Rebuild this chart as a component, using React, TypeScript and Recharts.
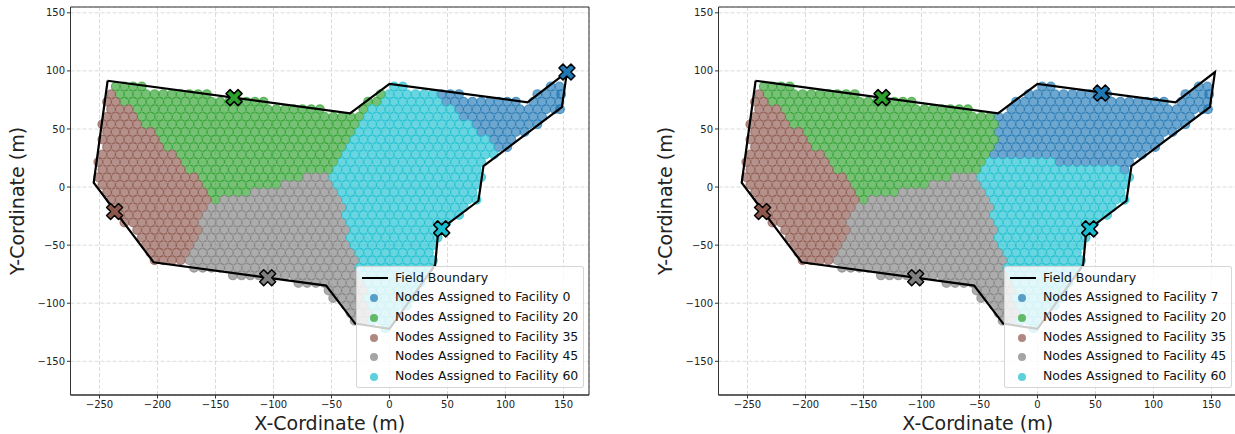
import { ScatterChart, Scatter, XAxis, YAxis, CartesianGrid, Legend, ReferenceArea } from "recharts"

const FONT = "'DejaVu Sans', sans-serif"
const COLOR_BLUE = "#1f77b4"
const COLOR_GREEN = "#2ca02c"
const COLOR_BROWN = "#8c564b"
const COLOR_GRAY = "#7f7f7f"
const COLOR_CYAN = "#17becf"

const X_DOMAIN = [-275, 172]
const Y_DOMAIN = [-179, 155]
const X_TICKS = [-250, -200, -150, -100, -50, 0, 50, 100, 150]
const Y_TICKS = [-150, -100, -50, 0, 50, 100, 150]

const BOUNDARY = [
  { x: -243, y: 91.5 }, { x: -34, y: 63.5 }, { x: 0, y: 88.8 }, { x: 119, y: 73 },
  { x: 153, y: 99 }, { x: 148.6, y: 68.7 }, { x: 81, y: 18 }, { x: 76.7, y: -11.8 },
  { x: 42, y: -38 }, { x: 39.4, y: -67 }, { x: 0, y: -122 }, { x: -29.6, y: -117.5 },
  { x: -54.6, y: -84.8 }, { x: -203.4, y: -64.7 }, { x: -255, y: 3.7 }, { x: -243, y: 91.5 },
]

const FACILITY_0 = [{ x: 153, y: 99 }]
const FACILITY_7 = [{ x: 55, y: 81 }]
const FACILITY_20 = [{ x: -134, y: 77 }]
const FACILITY_35 = [{ x: -237, y: -21 }]
const FACILITY_45 = [{ x: -105, y: -78 }]
const FACILITY_60 = [{ x: 45, y: -36 }]

// node rows: first number is y, the rest are the x of each node in that row
const NODES_GREEN_CORE = [
  [86.5, -236, -228.5, -221, -213.5],
  [80, -232.5, -225, -217.5, -210, -202.5, -195, -187.5, -180, -172.5, -165, -157.5],
  [73.5, -228.5, -221, -213.5, -206, -198.5, -191, -183.5, -176, -168.5, -161, -153.5, -146, -138.5, -131, -123.5, -116, -108.5],
  [67, -217.5, -210, -202.5, -195, -187.5, -180, -172.5, -165, -157.5, -150, -142.5, -135, -127.5, -120, -112.5, -105, -97.5, -90, -82.5, -75, -67.5, -60],
  [60.5, -213.5, -206, -198.5, -191, -183.5, -176, -168.5, -161, -153.5, -146, -138.5, -131, -123.5, -116, -108.5, -101, -93.5, -86, -78.5, -71, -63.5, -56, -48.5, -41],
  [54, -210, -202.5, -195, -187.5, -180, -172.5, -165, -157.5, -150, -142.5, -135, -127.5, -120, -112.5, -105, -97.5, -90, -82.5, -75, -67.5, -60, -52.5, -45, -37.5],
  [47.5, -198.5, -191, -183.5, -176, -168.5, -161, -153.5, -146, -138.5, -131, -123.5, -116, -108.5, -101, -93.5, -86, -78.5, -71, -63.5, -56, -48.5, -41],
  [41, -195, -187.5, -180, -172.5, -165, -157.5, -150, -142.5, -135, -127.5, -120, -112.5, -105, -97.5, -90, -82.5, -75, -67.5, -60, -52.5, -45, -37.5],
  [34.5, -191, -183.5, -176, -168.5, -161, -153.5, -146, -138.5, -131, -123.5, -116, -108.5, -101, -93.5, -86, -78.5, -71, -63.5, -56, -48.5, -41],
  [28, -180, -172.5, -165, -157.5, -150, -142.5, -135, -127.5, -120, -112.5, -105, -97.5, -90, -82.5, -75, -67.5, -60, -52.5, -45],
  [21.5, -176, -168.5, -161, -153.5, -146, -138.5, -131, -123.5, -116, -108.5, -101, -93.5, -86, -78.5, -71, -63.5, -56, -48.5],
  [15, -172.5, -165, -157.5, -150, -142.5, -135, -127.5, -120, -112.5, -105, -97.5, -90, -82.5, -75, -67.5, -60, -52.5],
  [8.5, -161, -153.5, -146, -138.5, -131, -123.5, -116, -108.5, -101, -93.5, -86, -78.5],
  [2, -157.5, -150, -142.5, -135, -127.5, -120, -112.5, -105, -97.5],
  [-4.5, -153.5, -146, -138.5, -131, -123.5],
  [-11, -150],
]

// these go to facility 20 on the left panel, facility 7 on the right
const NODES_GREEN_SWING = [
  [80, -7.5],
  [73.5, -18.5, -11],
  [67, -22.5],
  [60.5, -33.5, -26],
  [54, -30],
  [47.5, -33.5],
]

const NODES_BROWN = [
  [80, -240],
  [73.5, -243.5, -236],
  [67, -240, -232.5, -225],
  [60.5, -243.5, -236, -228.5, -221],
  [54, -247.5, -240, -232.5, -225, -217.5],
  [47.5, -243.5, -236, -228.5, -221, -213.5, -206],
  [41, -247.5, -240, -232.5, -225, -217.5, -210, -202.5],
  [34.5, -243.5, -236, -228.5, -221, -213.5, -206, -198.5],
  [28, -247.5, -240, -232.5, -225, -217.5, -210, -202.5, -195, -187.5],
  [21.5, -251, -243.5, -236, -228.5, -221, -213.5, -206, -198.5, -191, -183.5],
  [15, -247.5, -240, -232.5, -225, -217.5, -210, -202.5, -195, -187.5, -180],
  [8.5, -251, -243.5, -236, -228.5, -221, -213.5, -206, -198.5, -191, -183.5, -176, -168.5],
  [2, -247.5, -240, -232.5, -225, -217.5, -210, -202.5, -195, -187.5, -180, -172.5, -165],
  [-4.5, -243.5, -236, -228.5, -221, -213.5, -206, -198.5, -191, -183.5, -176, -168.5, -161],
  [-11, -240, -232.5, -225, -217.5, -210, -202.5, -195, -187.5, -180, -172.5, -165, -157.5],
  [-17.5, -236, -228.5, -221, -213.5, -206, -198.5, -191, -183.5, -176, -168.5, -161],
  [-24, -232.5, -225, -217.5, -210, -202.5, -195, -187.5, -180, -172.5, -165],
  [-30.5, -228.5, -221, -213.5, -206, -198.5, -191, -183.5, -176, -168.5],
  [-37, -217.5, -210, -202.5, -195, -187.5, -180, -172.5, -165],
  [-43.5, -213.5, -206, -198.5, -191, -183.5, -176, -168.5],
  [-50, -210, -202.5, -195, -187.5, -180, -172.5],
  [-56.5, -206, -198.5, -191, -183.5, -176],
  [-63, -202.5, -195, -187.5, -180],
]

const NODES_GRAY = [
  [8.5, -71, -63.5, -56],
  [2, -90, -82.5, -75, -67.5, -60, -52.5],
  [-4.5, -116, -108.5, -101, -93.5, -86, -78.5, -71, -63.5, -56, -48.5],
  [-11, -142.5, -135, -127.5, -120, -112.5, -105, -97.5, -90, -82.5, -75, -67.5, -60, -52.5, -45],
  [-17.5, -153.5, -146, -138.5, -131, -123.5, -116, -108.5, -101, -93.5, -86, -78.5, -71, -63.5, -56, -48.5, -41],
  [-24, -157.5, -150, -142.5, -135, -127.5, -120, -112.5, -105, -97.5, -90, -82.5, -75, -67.5, -60, -52.5, -45],
  [-30.5, -161, -153.5, -146, -138.5, -131, -123.5, -116, -108.5, -101, -93.5, -86, -78.5, -71, -63.5, -56, -48.5, -41],
  [-37, -157.5, -150, -142.5, -135, -127.5, -120, -112.5, -105, -97.5, -90, -82.5, -75, -67.5, -60, -52.5, -45, -37.5],
  [-43.5, -161, -153.5, -146, -138.5, -131, -123.5, -116, -108.5, -101, -93.5, -86, -78.5, -71, -63.5, -56, -48.5, -41],
  [-50, -165, -157.5, -150, -142.5, -135, -127.5, -120, -112.5, -105, -97.5, -90, -82.5, -75, -67.5, -60, -52.5, -45, -37.5],
  [-56.5, -168.5, -161, -153.5, -146, -138.5, -131, -123.5, -116, -108.5, -101, -93.5, -86, -78.5, -71, -63.5, -56, -48.5, -41, -33.5],
  [-63, -172.5, -165, -157.5, -150, -142.5, -135, -127.5, -120, -112.5, -105, -97.5, -90, -82.5, -75, -67.5, -60, -52.5, -45, -37.5, -30],
  [-69.5, -168.5, -161, -153.5, -146, -138.5, -131, -123.5, -116, -108.5, -101, -93.5, -86, -78.5, -71, -63.5, -56, -48.5, -41, -33.5],
  [-76, -135, -127.5, -120, -112.5, -105, -97.5, -90, -82.5, -75, -67.5, -60, -52.5, -45, -37.5, -30],
  [-82.5, -78.5, -71, -63.5, -56, -48.5, -41, -33.5, -26],
  [-89, -52.5, -45, -37.5, -30, -22.5],
  [-95.5, -48.5, -41, -33.5, -26],
  [-102, -37.5, -30, -22.5],
  [-108.5, -33.5, -26, -18.5],
  [-115, -30, -22.5],
]

const NODES_CYAN_CORE = [
  [21.5, -41, -33.5, -26, -18.5, -11, -3.5, 4, 11.5],
  [15, -45, -37.5, -30, -22.5, -15, -7.5, 0, 7.5, 15, 22.5, 30, 37.5, 45, 52.5, 60, 67.5],
  [8.5, -48.5, -41, -33.5, -26, -18.5, -11, -3.5, 4, 11.5, 19, 26.5, 34, 41.5, 49, 56.5, 64, 71.5, 79],
  [2, -45, -37.5, -30, -22.5, -15, -7.5, 0, 7.5, 15, 22.5, 30, 37.5, 45, 52.5, 60, 67.5, 75],
  [-4.5, -41, -33.5, -26, -18.5, -11, -3.5, 4, 11.5, 19, 26.5, 34, 41.5, 49, 56.5, 64, 71.5],
  [-11, -37.5, -30, -22.5, -15, -7.5, 0, 7.5, 15, 22.5, 30, 37.5, 45, 52.5, 60, 67.5, 75],
  [-17.5, -33.5, -26, -18.5, -11, -3.5, 4, 11.5, 19, 26.5, 34, 41.5, 49, 56.5, 64],
  [-24, -37.5, -30, -22.5, -15, -7.5, 0, 7.5, 15, 22.5, 30, 37.5, 45, 52.5, 60],
  [-30.5, -33.5, -26, -18.5, -11, -3.5, 4, 11.5, 19, 26.5, 34, 41.5, 49],
  [-37, -30, -22.5, -15, -7.5, 0, 7.5, 15, 22.5, 30, 37.5],
  [-43.5, -33.5, -26, -18.5, -11, -3.5, 4, 11.5, 19, 26.5, 34, 41.5],
  [-50, -30, -22.5, -15, -7.5, 0, 7.5, 15, 22.5, 30, 37.5],
  [-56.5, -26, -18.5, -11, -3.5, 4, 11.5, 19, 26.5, 34],
  [-63, -22.5, -15, -7.5, 0, 7.5, 15, 22.5, 30, 37.5],
  [-69.5, -26, -18.5, -11, -3.5, 4, 11.5, 19, 26.5, 34],
  [-76, -22.5, -15, -7.5, 0, 7.5, 15, 22.5, 30],
  [-82.5, -18.5, -11, -3.5, 4, 11.5, 19, 26.5],
  [-89, -15, -7.5, 0, 7.5, 15, 22.5],
  [-95.5, -18.5, -11, -3.5, 4, 11.5, 19],
  [-102, -15, -7.5, 0, 7.5, 15],
  [-108.5, -11, -3.5, 4],
  [-115, -15, -7.5, 0],
  [-121.5, -3.5],
]

// these go to facility 60 on the left panel, facility 7 on the right
const NODES_CYAN_SWING = [
  [86.5, 4, 11.5],
  [80, 0, 7.5, 15, 22.5, 30, 37.5],
  [73.5, -3.5, 4, 11.5, 19, 26.5, 34, 41.5],
  [67, -15, -7.5, 0, 7.5, 15, 22.5, 30, 37.5, 45, 52.5],
  [60.5, -18.5, -11, -3.5, 4, 11.5, 19, 26.5, 34, 41.5, 49, 56.5],
  [54, -22.5, -15, -7.5, 0, 7.5, 15, 22.5, 30, 37.5, 45, 52.5, 60, 67.5],
  [47.5, -26, -18.5, -11, -3.5, 4, 11.5, 19, 26.5, 34, 41.5, 49, 56.5, 64, 71.5],
  [41, -30, -22.5, -15, -7.5, 0, 7.5, 15, 22.5, 30, 37.5, 45, 52.5, 60, 67.5, 75, 82.5],
  [34.5, -33.5, -26, -18.5, -11, -3.5, 4, 11.5, 19, 26.5, 34, 41.5, 49, 56.5, 64, 71.5, 79, 86.5],
  [28, -37.5, -30, -22.5, -15, -7.5, 0, 7.5, 15, 22.5, 30, 37.5, 45, 52.5, 60, 67.5, 75, 82.5, 90],
  [21.5, 19, 26.5, 34, 41.5, 49, 56.5, 64, 71.5, 79],
  [15, 75],
]

const NODES_BLUE_CORE = [
  [86.5, 139, 146.5],
  [80, 45, 52.5, 60, 127.5, 135, 142.5, 148],
  [73.5, 49, 56.5, 64, 71.5, 79, 86.5, 94, 101.5, 109, 124, 131.5, 139, 146.5],
  [67, 60, 67.5, 75, 82.5, 90, 97.5, 105, 112.5, 120, 127.5, 135, 142.5, 147],
  [60.5, 64, 71.5, 79, 86.5, 94, 101.5, 109, 116.5, 124, 131.5],
  [54, 75, 82.5, 90, 97.5, 105, 112.5, 120, 127.5],
  [47.5, 79, 86.5, 94, 101.5, 109, 116.5],
  [41, 90, 97.5, 105],
  [34.5, 94, 101.5],
]

function toPoints(...groups: number[][][]) {
  return groups.flatMap((rows) => rows.flatMap(([y, ...xs]) => xs.map((x) => ({ x, y }))))
}

function fmtTick(v: number) {
  return String(v).replace("-", "\u2212")
}

function NodeDot(color: string) {
  return (p: any) => (
    <circle
      cx={p.cx} cy={p.cy} r={4.4} fill={color} fillOpacity={0.65}
      stroke={color} strokeOpacity={0.65} strokeWidth={1.2}
    />
  )
}

function FacilityMark(color: string) {
  return (p: any) => (
    <path
      transform={`translate(${p.cx},${p.cy})`}
      d="M-4,-8 L0,-4 L4,-8 L8,-4 L4,0 L8,4 L4,8 L0,4 L-4,8 L-8,4 L-4,0 L-8,-4 Z"
      fill={color}
      stroke="#000"
      strokeWidth={1.5}
      strokeLinejoin="round"
    />
  )
}

function NoMark() {
  return null
}

function YLabel({ viewBox }: any) {
  return (
    <text
      transform={`translate(17,${viewBox.y + viewBox.height / 2}) rotate(-90)`}
      textAnchor="middle" dominantBaseline="central"
      fontSize={19} fill="#222" fontFamily={FONT}
    >
      Y-Cordinate (m)
    </text>
  )
}

function LegendBox({ rows }: { rows: { name: string; color: string }[] }) {
  return (
    <div
      style={{
        boxSizing: "border-box", width: 228, height: 122, background: "rgba(255,255,255,0.8)",
        border: "1px solid rgba(204,204,204,0.8)", borderRadius: 3, fontFamily: FONT, fontSize: 12.5,
        color: "#111", position: "relative",
      }}
    >
      <div style={{ position: "absolute", left: 5, top: 10, width: 26, height: 2, background: "#000" }} />
      <div style={{ position: "absolute", left: 38, top: 1, lineHeight: "20px", whiteSpace: "nowrap" }}>Field Boundary</div>
      {rows.map((r, i) => (
        <div key={r.name}>
          <div
            style={{
              position: "absolute", left: 13, top: 27 + i * 19.8, width: 8, height: 8,
              borderRadius: "50%", background: r.color, opacity: 0.7,
            }}
          />
          <div style={{ position: "absolute", left: 38, top: 20 + i * 19.8, lineHeight: "20px", whiteSpace: "nowrap" }}>
            {r.name}
          </div>
        </div>
      ))}
    </div>
  )
}

interface PanelProps {
  left: number
  blueId: number
  blueNodes: { x: number; y: number }[]
  blueFacility: { x: number; y: number }[]
  greenNodes: { x: number; y: number }[]
  cyanNodes: { x: number; y: number }[]
}

function Panel({ left, blueId, blueNodes, blueFacility, greenNodes, cyanNodes }: PanelProps) {
  const legendRows = [
    { name: `Nodes Assigned to Facility ${blueId}`, color: COLOR_BLUE },
    { name: "Nodes Assigned to Facility 20", color: COLOR_GREEN },
    { name: "Nodes Assigned to Facility 35", color: COLOR_BROWN },
    { name: "Nodes Assigned to Facility 45", color: COLOR_GRAY },
    { name: "Nodes Assigned to Facility 60", color: COLOR_CYAN },
  ]
  const tick = { fontSize: 10, fill: "#222", fontFamily: FONT }
  const labelStyle = { fontSize: 19, fill: "#222", fontFamily: FONT }

  return (
    <div style={{ position: "absolute", left, top: 0 }}>
      <ScatterChart width={590} height={434} margin={{ top: 7, right: 1, bottom: 0, left: 0 }}>
        <XAxis
          type="number" dataKey="x" domain={X_DOMAIN} ticks={X_TICKS} interval={0} height={39}
          tick={tick} tickSize={3.5} tickFormatter={fmtTick} stroke="#333" allowDataOverflow
          label={{ value: "X-Cordinate (m)", position: "insideBottom", offset: 4, style: labelStyle }}
        />
        <YAxis
          type="number" dataKey="y" domain={Y_DOMAIN} ticks={Y_TICKS} interval={0} width={70.5}
          tick={tick} tickSize={3.5} tickFormatter={fmtTick} stroke="#333" allowDataOverflow
          label={<YLabel />}
        />
        <Scatter data={blueNodes} shape={NodeDot(COLOR_BLUE)} isAnimationActive={false} legendType="none" />
        <Scatter data={greenNodes} shape={NodeDot(COLOR_GREEN)} isAnimationActive={false} legendType="none" />
        <Scatter data={toPoints(NODES_BROWN)} shape={NodeDot(COLOR_BROWN)} isAnimationActive={false} legendType="none" />
        <Scatter data={toPoints(NODES_GRAY)} shape={NodeDot(COLOR_GRAY)} isAnimationActive={false} legendType="none" />
        <Scatter data={cyanNodes} shape={NodeDot(COLOR_CYAN)} isAnimationActive={false} legendType="none" />
        <CartesianGrid stroke="rgba(200,200,200,0.65)" strokeDasharray="4 2" />
        <Scatter
          data={BOUNDARY} line={{ stroke: "#000", strokeWidth: 2.2 }} lineType="joint"
          shape={NoMark} isAnimationActive={false} legendType="none"
        />
        <Scatter data={blueFacility} shape={FacilityMark(COLOR_BLUE)} isAnimationActive={false} legendType="none" />
        <Scatter data={FACILITY_20} shape={FacilityMark(COLOR_GREEN)} isAnimationActive={false} legendType="none" />
        <Scatter data={FACILITY_35} shape={FacilityMark(COLOR_BROWN)} isAnimationActive={false} legendType="none" />
        <Scatter data={FACILITY_45} shape={FacilityMark(COLOR_GRAY)} isAnimationActive={false} legendType="none" />
        <Scatter data={FACILITY_60} shape={FacilityMark(COLOR_CYAN)} isAnimationActive={false} legendType="none" />
        <ReferenceArea
          x1={X_DOMAIN[0]} x2={X_DOMAIN[1]} y1={Y_DOMAIN[0]} y2={Y_DOMAIN[1]}
          fill="none" stroke="#333" strokeWidth={1} fillOpacity={0}
        />
        <Legend
          layout="vertical" align="center" verticalAlign="middle"
          wrapperStyle={{ left: 356, top: 266, width: 228, height: 122 }}
          content={() => <LegendBox rows={legendRows} />}
        />
      </ScatterChart>
    </div>
  )
}

export default function App() {
  return (
    <div style={{ position: "absolute", left: 0, top: 0, width: 1235, height: 434, overflow: "hidden", background: "#fff" }}>
      <Panel
        left={0}
        blueId={0}
        blueNodes={toPoints(NODES_BLUE_CORE)}
        blueFacility={FACILITY_0}
        greenNodes={toPoints(NODES_GREEN_CORE, NODES_GREEN_SWING)}
        cyanNodes={toPoints(NODES_CYAN_CORE, NODES_CYAN_SWING)}
      />
      <Panel
        left={648}
        blueId={7}
        blueNodes={toPoints(NODES_BLUE_CORE, NODES_CYAN_SWING, NODES_GREEN_SWING)}
        blueFacility={FACILITY_7}
        greenNodes={toPoints(NODES_GREEN_CORE)}
        cyanNodes={toPoints(NODES_CYAN_CORE)}
      />
    </div>
  )
}
